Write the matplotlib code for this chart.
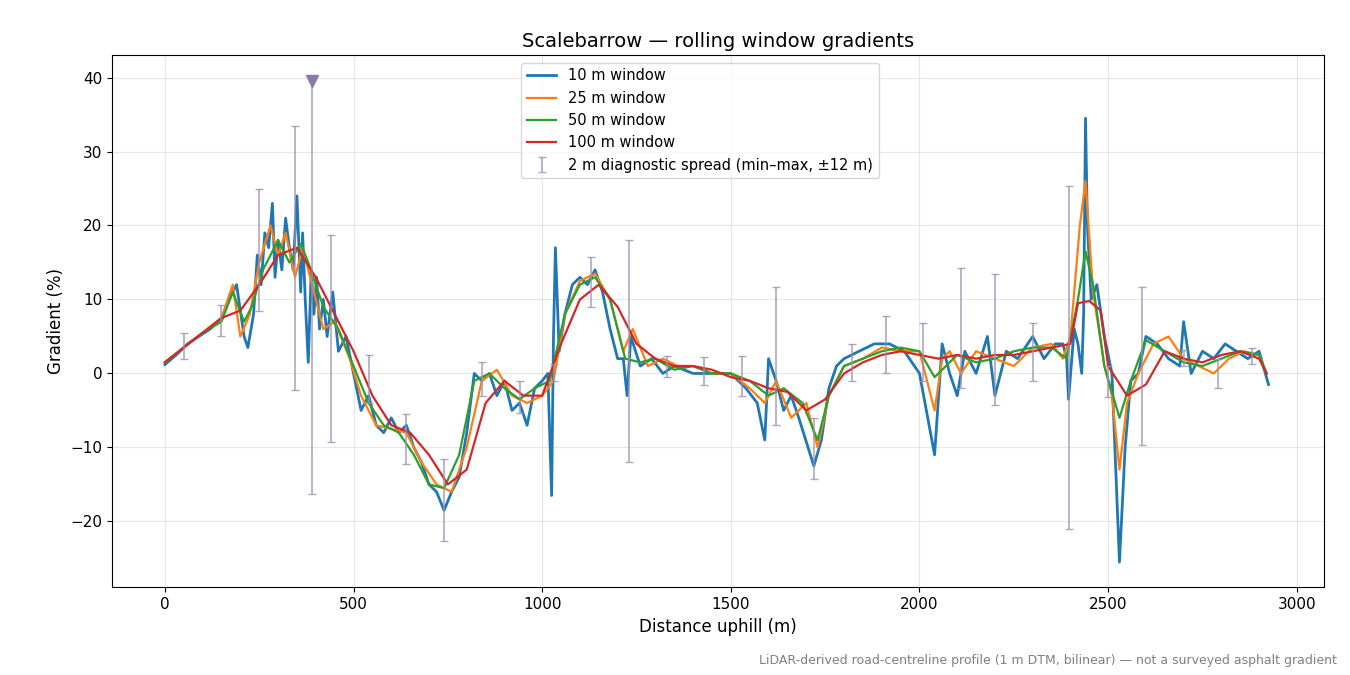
import matplotlib
matplotlib.use("Agg")
import matplotlib.pyplot as plt
import numpy as np

# (distance m, gradient %) per window
pts100 = [(0,1.5),(50,3.5),(100,5.5),(150,7.5),(200,8.5),(250,12),(300,16),(350,17),(400,13),(450,8),
          (500,3),(550,-3),(600,-7),(650,-8),(700,-11),(750,-15),(800,-13),(850,-4),(900,-1),(950,-3),
          (1000,-3),(1050,4),(1100,10),(1150,12),(1200,9),(1250,4),(1300,2),(1350,1),(1400,1),(1450,0.5),
          (1500,-0.5),(1550,-1),(1600,-2),(1650,-2.5),(1700,-5),(1750,-3.5),(1800,0),(1850,1.5),(1900,2.5),(1950,3),
          (2000,2.5),(2050,2),(2100,2.5),(2150,2),(2200,2.5),(2250,2.5),(2300,3),(2350,3.5),(2400,4),(2420,9.5),
          (2450,9.8),(2480,8.5),(2500,1),(2550,-3),(2600,-1.5),(2650,3),(2700,2),(2750,1.5),(2800,2.5),(2850,3),
          (2900,2),(2920,0)]

pts50 = [(0,1.5),(50,3.5),(100,5.5),(150,7),(180,11),(210,7),(230,9),(260,14),(300,18),(330,15),
         (360,17.5),(380,15),(420,9),(460,6),(500,1),(540,-4),(580,-7),(620,-8),(660,-11),(700,-15),
         (740,-15.5),(780,-11),(820,-1),(860,0),(900,-2),(940,-3.5),(980,-2),(1020,-1),(1060,8),(1100,12),
         (1140,13),(1180,10),(1220,2),(1260,1.5),(1300,2),(1350,0.5),(1400,1),(1450,0),(1500,0),(1550,-1),
         (1600,-3),(1640,-2),(1690,-4),(1730,-9),(1760,-3),(1800,1),(1850,2),(1900,3),(1950,3.5),(2000,3),
         (2040,-0.5),(2070,1),(2100,2.5),(2150,1.5),(2200,2),(2250,3),(2300,3.5),(2350,3.5),(2390,2),(2420,10),
         (2440,16.5),(2460,12),(2490,1),(2530,-6),(2560,-1),(2600,4.5),(2650,3),(2700,1.5),(2750,1),(2800,2),
         (2850,3),(2900,2.5),(2920,0)]

pts25 = [(0,1.5),(50,3.5),(100,5.5),(150,7.5),(180,12),(200,5),(225,8),(250,15),(280,20),(300,16),
         (320,19),(345,13),(365,17),(390,12),(420,6),(450,7),(490,2),(520,-3),(560,-7),(600,-7.5),
         (640,-8),(680,-12),(720,-15),(760,-16),(800,-10),(840,-1),(880,0.5),(920,-3),(960,-4),(1000,-3),
         (1030,-1),(1060,8),(1100,12.5),(1140,13.5),(1180,10),(1215,3),(1240,6),(1280,1),(1320,2),(1360,1),
         (1400,1),(1450,0),(1500,0),(1550,-2),(1590,-4),(1620,-1),(1660,-6),(1700,-4),(1730,-10),(1760,-3),
         (1800,1),(1850,2),(1900,3.5),(1950,3),(2000,3),(2040,-5),(2060,2),(2080,3),(2110,0),(2150,3),
         (2200,2),(2250,1),(2300,3.5),(2350,4),(2380,2),(2400,5),(2425,20),(2440,26),(2460,11),(2490,1),
         (2510,-3),(2530,-13),(2550,-4),(2580,0),(2620,4),(2660,5),(2700,2),(2740,1),(2780,0),(2820,2),
         (2860,3),(2900,2.5),(2920,0)]

pts10 = [(0,1.2),(30,2.5),(60,4),(90,5),(120,6),(150,7.5),(170,10),(190,12),(210,5),(220,3.5),
         (235,8),(245,16),(255,12),(265,19),(275,17),(285,23),(292,13),(300,18),(310,14),(320,21),
         (330,17),(340,14),(350,24),(360,11),(365,19),(372,10),(380,1.5),(388,14),(395,8),(402,13),
         (410,6),(420,10),(430,5),(445,11),(460,3),(480,5),(500,0),(520,-5),(540,-3),(560,-7),
         (580,-8),(600,-6),(620,-8),(640,-7),(660,-10),(680,-12),(700,-15),(720,-16),(740,-18.5),(760,-16),
         (780,-14),(800,-8),(820,0),(840,-1),(860,0),(880,-3),(900,-1),(920,-5),(940,-4),(960,-7),
         (980,-2),(1000,-1),(1015,0),(1025,-16.5),(1030,5),(1035,17),(1045,3),(1060,8),(1080,12),(1100,13),
         (1120,12),(1140,14),(1160,11),(1180,6),(1200,2),(1215,2),(1225,-3),(1235,5),(1260,1),(1290,2),
         (1320,0),(1350,1),(1400,0),(1450,0),(1500,0),(1540,-2),(1570,-4),(1590,-9),(1600,2),(1620,-1),
         (1640,-5),(1660,-3),(1680,-6),(1720,-12.5),(1740,-9),(1760,-2),(1780,1),(1800,2),(1840,3),(1880,4),
         (1920,4),(1960,3),(2000,0),(2040,-11),(2060,4),(2080,0),(2100,-3),(2120,3),(2150,0),(2180,5),
         (2200,-3),(2230,3),(2260,2),(2300,5),(2330,2),(2360,4),(2380,4),(2390,2),(2395,-3.5),(2410,6),
         (2420,4),(2430,0),(2435,8),(2440,34.5),(2445,20),(2455,10),(2470,12),(2490,5),(2510,0),(2530,-25.5),
         (2545,-10),(2560,-1),(2580,0),(2600,5),(2630,4),(2660,2),(2690,1),(2700,7),(2720,0),(2750,3),
         (2780,2),(2810,4),(2840,3),(2870,2),(2900,3),(2925,-1.5)]

# 2 m diagnostic spread (x, min, max)
spread = [(50,2,5.5),(150,5,9.3),(250,8.5,25),(345,-2.2,33.5),(390,-16.3,40),(440,-9.3,18.7),
          (540,-4,2.5),(640,-12.3,-5.5),(740,-22.7,-11.5),(840,-3,1.5),(940,-5.3,-1),(1030,-1,1.3),
          (1130,9,15.8),(1230,-12,18.1),(1330,-0.5,2.3),(1430,-1.5,2.2),(1530,-3,2.3),(1620,-7,11.7),
          (1720,-14.3,-6),(1820,-1,4),(1910,0,7.8),(2010,-1,6.8),(2110,-2,14.3),(2200,-4.2,13.4),
          (2300,-1,6.8),(2395,-21,25.4),(2500,-3.2,1),(2590,-9.7,11.7),(2700,1,3.2),(2790,-2,2),(2880,1.3,3.5)]

fig, ax = plt.subplots(figsize=(13.5, 6.75), dpi=100)
fig.subplots_adjust(left=0.083, right=0.981, top=0.918, bottom=0.13)
for pts, c, lw, lab in [(pts10, '#1f77b4', 2.0, '10 m window'), (pts25, '#ff7f0e', 1.6, '25 m window'),
                        (pts50, '#2ca02c', 1.6, '50 m window'), (pts100, '#d62728', 1.6, '100 m window')]:
    xs, ys = zip(*pts)
    ax.plot(xs, ys, color=c, lw=lw, label=lab)
xe, lo, hi = (np.array(v, dtype=float) for v in zip(*spread))
mid = (lo + hi) / 2
ax.errorbar(xe, mid, yerr=[mid - lo, hi - mid], fmt='none', ecolor='#9c8fb5', alpha=0.8,
            elinewidth=1.2, capsize=3, label='2 m diagnostic spread (min–max, ±12 m)')
ax.plot([390], [39.5], marker='v', color='#8a7aa8', ms=8, ls='none')
ax.set_xlim(-140, 3073)
ax.set_ylim(-28.9, 43)
ax.set_yticks([-20, -10, 0, 10, 20, 30, 40])
ax.set_yticklabels(['\u221220', '\u221210', '0', '10', '20', '30', '40'])
ax.grid(True, alpha=0.3)
ax.tick_params(labelsize=11)
ax.set_xlabel('Distance uphill (m)', fontsize=12)
ax.set_ylabel('Gradient (%)', fontsize=12)
ax.set_title('Scalebarrow — rolling window gradients', fontsize=14)
ax.legend(loc='upper center', fontsize=10.5, bbox_to_anchor=(0.485, 1.0))
fig.text(0.99, 0.012, 'LiDAR-derived road-centreline profile (1 m DTM, bilinear) — not a surveyed asphalt gradient',
         ha='right', va='bottom', fontsize=9, color='gray')
fig.savefig('out.png', dpi=100)
